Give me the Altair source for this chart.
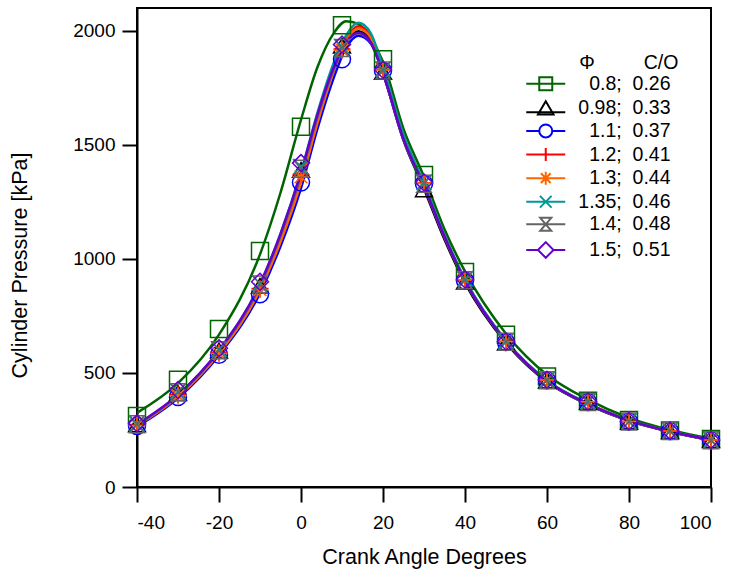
import altair as alt
import pandas as pd

NB = "\u00a0"
PHI = ["0.8", "0.98", "1.1", "1.2", "1.3", "1.35", "1.4", "1.5"]
CO = ["0.26", "0.33", "0.37", "0.41", "0.44", "0.46", "0.48", "0.51"]
LABELS = [f"{p};{NB}{NB}{c}" for p, c in zip(PHI, CO)]

# smooth pressure traces
X_CURVE = [-40, -30, -20, -10, -5, 0, 4, 8, 11, 14, 17, 20, 25, 30, 35, 40, 50, 60, 70, 80, 90, 100]
C_08 = [325, 455, 668, 1020, 1290, 1610, 1840, 1990, 2042, 2030, 1968, 1865, 1570, 1360, 1130, 945, 672, 492, 383, 303, 250, 212]
C_098 = [270, 398, 590, 872, 1088, 1350, 1608, 1825, 1948, 1998, 1955, 1815, 1520, 1308, 1085, 895, 632, 461, 361, 290, 242, 205]
C_11 = [265, 390, 578, 850, 1055, 1310, 1570, 1795, 1925, 1978, 1945, 1815, 1525, 1318, 1095, 905, 637, 464, 363, 291, 243, 205]
C_12 = [270, 397, 588, 868, 1080, 1340, 1600, 1830, 1962, 2020, 1978, 1835, 1538, 1325, 1100, 908, 640, 466, 365, 292, 244, 206]
C_13 = [269, 396, 586, 865, 1075, 1335, 1595, 1822, 1955, 2010, 1970, 1830, 1535, 1322, 1098, 906, 639, 465, 364, 291, 243, 205]
C_135 = [272, 403, 598, 888, 1110, 1380, 1640, 1860, 1980, 2035, 1990, 1840, 1545, 1332, 1105, 912, 642, 467, 366, 293, 244, 206]
C_14 = [272, 402, 595, 882, 1100, 1365, 1620, 1830, 1945, 1988, 1948, 1812, 1522, 1318, 1095, 903, 637, 464, 363, 291, 243, 205]
C_15 = [275, 405, 600, 890, 1110, 1378, 1632, 1840, 1950, 1992, 1950, 1815, 1525, 1320, 1098, 905, 638, 465, 364, 292, 243, 206]
CURVES = [C_08, C_098, C_11, C_12, C_13, C_135, C_14, C_15]

# measured points (markers)
X_MARK = [-40, -30, -20, -10, 0, 10, 20, 30, 40, 50, 60, 70, 80, 90, 100]
M_08 = [311, 470, 693, 1035, 1579, 2024, 1875, 1368, 943, 668, 484, 378, 294, 248, 210]
M_098 = [274, 412, 598, 882, 1390, 1935, 1820, 1305, 900, 633, 466, 372, 286, 245, 205]
M_11 = [268, 395, 580, 845, 1335, 1875, 1825, 1330, 905, 636, 468, 373, 287, 245, 205]
M_12 = [271, 405, 590, 870, 1370, 1920, 1830, 1333, 908, 639, 469, 374, 287, 246, 206]
M_13 = [270, 400, 585, 865, 1360, 1915, 1828, 1332, 907, 638, 469, 374, 287, 246, 206]
M_135 = [276, 418, 604, 893, 1405, 1930, 1832, 1336, 912, 640, 470, 375, 288, 246, 206]
M_14 = [275, 415, 600, 888, 1395, 1925, 1826, 1330, 906, 637, 468, 373, 287, 245, 205]
M_15 = [279, 425, 608, 900, 1420, 1940, 1829, 1335, 910, 638, 470, 375, 288, 246, 206]
MARKS = [M_08, M_098, M_11, M_12, M_13, M_135, M_14, M_15]

X_TICKS = [-40, -20, 0, 20, 40, 60, 80, 100]
Y_TICKS = [0, 500, 1000, 1500, 2000]

# styles
COLORS = ["#006400", "#000000", "#0000ff", "#ff0000", "#ff6600", "#009999", "#646464", "#6600cc"]
SHAPES = [
    "square",
    "triangle-up",
    "circle",
    "M-1,0H1M0,-1V1",
    "M-1,0H1M0,-1V1M-0.75,-0.75L0.75,0.75M-0.75,0.75L0.75,-0.75",
    "M-0.9,-0.9L0.9,0.9M-0.9,0.9L0.9,-0.9",
    "M-0.85,-1H0.85L-0.85,1H0.85Z",
    "diamond",
]
LEG_SHAPES = [
    "M-3,0H3M-1,-1H1V1H-1Z",
    "M-3,0.6H3M0,-1.1L1.2,0.95H-1.2Z",
    "M-3,0H-1M1,0H3M-1,0A1,1,0,1,0,1,0A1,1,0,1,0,-1,0",
    "M-3,0H3M0,-1V1",
    "M-3,0H3M0,-1V1M-0.75,-0.75L0.75,0.75M-0.75,0.75L0.75,-0.75",
    "M-3,0H3M-0.9,-0.9L0.9,0.9M-0.9,0.9L0.9,-0.9",
    "M-3,0H3M-0.85,-1H0.85L-0.85,1H0.85Z",
    "M-3,0H-1.2M1.2,0H3M0,-1.2L1.2,0L0,1.2L-1.2,0Z",
]

curve_rows = [
    {"series": lab, "x": x, "y": y}
    for lab, vals in zip(LABELS, CURVES)
    for x, y in zip(X_CURVE, vals)
]
mark_rows = [
    {"series": lab, "x": x, "y": y}
    for lab, vals in zip(LABELS, MARKS)
    for x, y in zip(X_MARK, vals)
]
curve_df = pd.DataFrame(curve_rows)
mark_df = pd.DataFrame(mark_rows)

xs = alt.Scale(domain=[-40, 100], nice=False, zero=False)
ys = alt.Scale(domain=[0, 2100], nice=False, zero=False)

x_axis = alt.Axis(values=X_TICKS, title="Crank Angle Degrees", grid=False, tickSize=15,
                  labelExpr="'' + datum.value",
                  labelPadding=11, titleY=70, titleBaseline="middle")
y_axis = alt.Axis(values=Y_TICKS, title="Cylinder Pressure [kPa]", grid=False, tickSize=15,
                  labelExpr="'' + datum.value",
                  labelPadding=7, titleX=-117, titleY=257, titleAngle=-90,
                  titleBaseline="middle", titleAlign="center")

X = alt.X("x:Q", scale=xs, axis=x_axis)
Y = alt.Y("y:Q", scale=ys, axis=y_axis)

lines = alt.Chart(curve_df).mark_line(strokeWidth=2.5, interpolate="monotone").encode(
    x=X, y=Y,
    color=alt.Color("series:N", scale=alt.Scale(domain=LABELS, range=COLORS), legend=None),
)

points = alt.Chart(mark_df).mark_point(filled=False, strokeWidth=1.5, size=289, opacity=1).encode(
    x=X, y=Y,
    color=alt.Color("series:N", scale=alt.Scale(domain=LABELS, range=COLORS), legend=None),
    shape=alt.Shape("series:N", scale=alt.Scale(domain=LABELS, range=SHAPES), legend=None),
)

legend = alt.Legend(
    orient="none", legendX=399, legendY=46,
    title="\u200b" + NB * 8 + "Φ" + NB * 9 + "C/O", titleAnchor="start", titleAlign="left",
    titleFontSize=19.5, titleFontWeight="normal", titleColor="black", titlePadding=0.5,
    labelAlign="right", labelOffset=115, labelFontSize=19.5, labelColor="black", labelLimit=300,
    symbolSize=169, symbolStrokeWidth=2, rowPadding=1.6, padding=0,
)

legend_layer = alt.Chart(mark_df).mark_point(filled=False, strokeWidth=2, opacity=1).encode(
    x=X, y=Y,
    color=alt.Color("series:N", scale=alt.Scale(domain=LABELS, range=COLORS), legend=legend),
    shape=alt.Shape("series:N", scale=alt.Scale(domain=LABELS, range=LEG_SHAPES), legend=legend),
).transform_filter("false")

chart = alt.layer(lines, points, legend_layer).resolve_scale(
    color="independent", shape="independent"
).properties(
    width=574, height=479,
    autosize=alt.AutoSizeParams(type="none"),
    padding={"left": 137, "top": 8, "right": 19, "bottom": 90},
).configure(
    font="Liberation Sans"
).configure_view(
    stroke="black", strokeWidth=2
).configure_axis(
    domainColor="black", domainWidth=2, tickColor="black", tickWidth=2,
    labelColor="black", titleColor="black", labelFontSize=19, titleFontSize=21.5,
    titleFontWeight="normal",
)

chart.save("out.html", embed_options={"renderer": "svg", "actions": False})
